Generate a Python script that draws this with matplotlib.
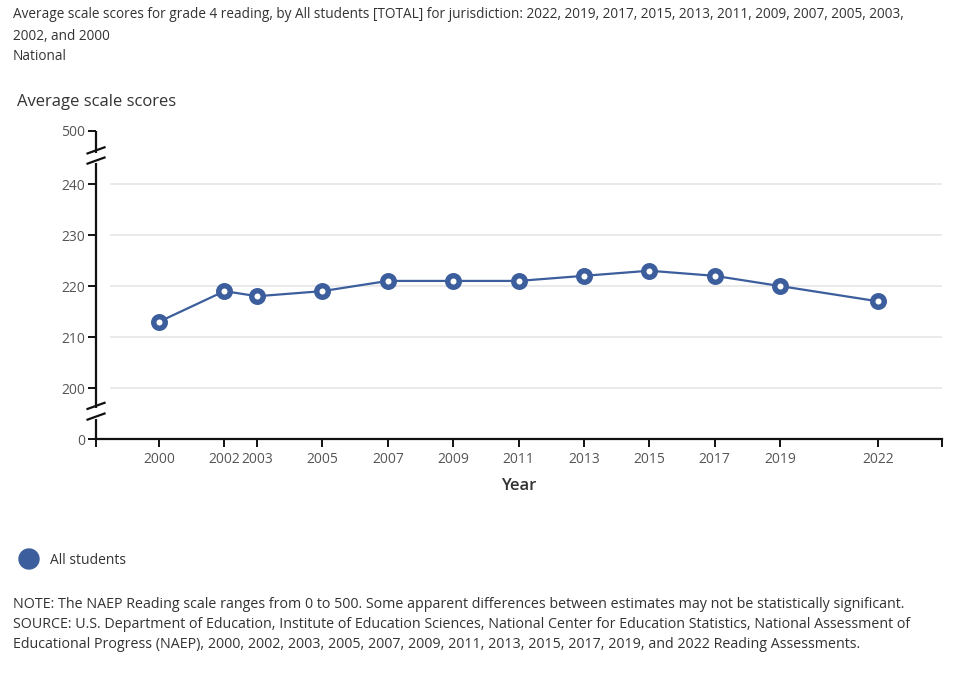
import matplotlib
matplotlib.use("Agg")
import matplotlib.pyplot as plt
import matplotlib.transforms as mtransforms

plt.rcParams['font.family'] = ['Open Sans', 'DejaVu Sans']

# data
years = [2000, 2002, 2003, 2005, 2007, 2009, 2011, 2013, 2015, 2017, 2019, 2022]
scores = [213, 219, 218, 219, 221, 221, 221, 222, 223, 222, 220, 217]
grid_vals = [200, 210, 220, 230, 240]
# broken axis: 0 and 500 drawn at the ends of the visible range
y_bottom, y_top = 190, 250.4
ytick_pos = [y_bottom] + grid_vals + [y_top]
ytick_lab = ['0', '200', '210', '220', '230', '240', '500']

blue = '#3c5e9c'
txt = '#333333'

fig = plt.figure(figsize=(9.8, 6.88), dpi=100)
ax = fig.add_axes([0.098, 0.3619, 0.8633, 0.4477])
ax.set_xlim(1998.07, 2023.96)
ax.set_ylim(y_bottom, y_top)

# gridlines
ax.hlines(grid_vals, 1998.5, 2023.96, color='#e6e6e6', lw=1.2, zorder=1)

ax.plot(years, scores, color=blue, lw=1.6, zorder=3)
ax.plot(years, scores, 'o', color=blue, markersize=8.3, markerfacecolor='white',
        markeredgecolor=blue, markeredgewidth=3.9, zorder=4)

for s in ['top', 'right', 'left']:
    ax.spines[s].set_visible(False)
ax.spines['bottom'].set_linewidth(1.6)
ax.spines['bottom'].set_color('#111111')

ax.set_xticks(years)
ax.set_xticklabels([str(y) for y in years])
ax.set_xticks([1998.07, 2023.96], minor=True)
ax.tick_params(axis='x', which='both', length=6, width=1.4, color='#111111',
               labelsize=10, labelcolor='#555555', pad=3)
ax.set_yticks(ytick_pos)
ax.set_yticklabels(ytick_lab)
ax.tick_params(axis='y', length=6, width=1.4, color='#111111',
               labelsize=10, labelcolor='#555555', pad=2)

# left axis line with breaks
trans = mtransforms.blended_transform_factory(ax.transAxes, ax.transData)
segs = [(y_top, 246.1), (244.1, 196.0), (194.0, y_bottom)]
for a, b in segs:
    ax.plot([0, 0], [a, b], color='#111111', lw=1.6, transform=trans,
            clip_on=False, solid_capstyle='butt')
dx = 8.5 / 846
for yc in [246.6, 244.6, 196.5, 194.4]:
    ax.plot([-dx, dx], [yc - 0.6, yc + 0.6], color='#111111', lw=1.6,
            transform=trans, clip_on=False)

ax.set_xlabel('Year', fontsize=12, color=txt, fontweight='semibold', labelpad=8)

fig.text(13 / 980, 1 - 15 / 688,
         'Average scale scores for grade 4 reading, by All students [TOTAL] for jurisdiction: '
         '2022, 2019, 2017, 2015, 2013, 2011, 2009, 2007, 2005, 2003,',
         fontsize=9.8, color=txt, va='center')
fig.text(13 / 980, 1 - 36 / 688, '2002, and 2000', fontsize=9.8, color=txt, va='center')
fig.text(13 / 980, 1 - 56 / 688, 'National', fontsize=9.8, color=txt, va='center')
fig.text(17 / 980, 1 - 102 / 688, 'Average scale scores', fontsize=12, color=txt, va='center')

# legend
fig.patches.append(matplotlib.patches.Ellipse((29 / 980, 1 - 559 / 688), 20 / 980, 20 / 688,
                                              transform=fig.transFigure, color=blue))
fig.text(50 / 980, 1 - 560 / 688, 'All students', fontsize=10, color=txt, va='center')

notes = [
    'NOTE: The NAEP Reading scale ranges from 0 to 500. Some apparent differences between estimates may not be statistically significant.',
    'SOURCE: U.S. Department of Education, Institute of Education Sciences, National Center for Education Statistics, National Assessment of',
    'Educational Progress (NAEP), 2000, 2002, 2003, 2005, 2007, 2009, 2011, 2013, 2015, 2017, 2019, and 2022 Reading Assessments.',
]
for i, line in enumerate(notes):
    fig.text(13 / 980, 1 - (604 + 20 * i) / 688, line, fontsize=10.3, color=txt, va='center')

fig.savefig('out.png', dpi=100)
